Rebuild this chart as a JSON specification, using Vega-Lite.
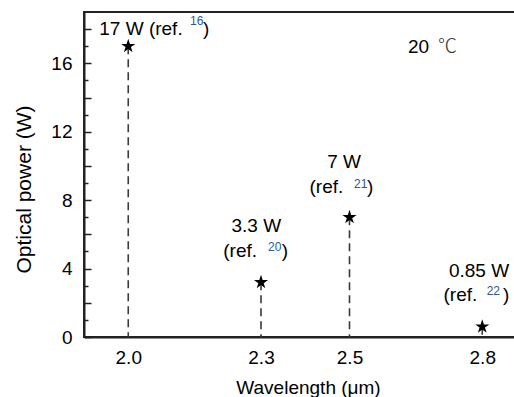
{
  "$schema": "https://vega.github.io/schema/vega-lite/v6.json",
  "width": 431,
  "height": 325,
  "autosize": {"type": "none"},
  "padding": {"left": 84, "top": 12, "right": -1, "bottom": 60},
  "background": "white",
  "config": {"view": {"stroke": "#222", "strokeWidth": 2}, "font": "Liberation Sans", "axis": {"grid": false}},
  "datasets": {
    "points": [
      {"wavelength": 2.0, "power": 17},
      {"wavelength": 2.3, "power": 3.2},
      {"wavelength": 2.5, "power": 7},
      {"wavelength": 2.8, "power": 0.6}
    ],
    "labels": [
      {"x": 2.1230, "y": 17.635, "text": "17 W (ref.", "role": "r"},
      {"x": 2.1395, "y": 18.22, "text": "16", "role": "s"},
      {"x": 2.1689, "y": 17.635, "text": ")", "role": "l"},
      {"x": 2.2894, "y": 6.114, "text": "3.3 W", "role": "c"},
      {"x": 2.2910, "y": 4.689, "text": "(ref.", "role": "r"},
      {"x": 2.3158, "y": 5.022, "text": "20", "role": "s"},
      {"x": 2.3468, "y": 4.689, "text": ")", "role": "l"},
      {"x": 2.4876, "y": 9.869, "text": "7 W", "role": "c"},
      {"x": 2.4860, "y": 8.438, "text": "(ref.", "role": "r"},
      {"x": 2.5102, "y": 8.701, "text": "21", "role": "s"},
      {"x": 2.5395, "y": 8.438, "text": ")", "role": "l"},
      {"x": 2.7927, "y": 3.521, "text": "0.85 W", "role": "c"},
      {"x": 2.7888, "y": 2.091, "text": "(ref.", "role": "r"},
      {"x": 2.81, "y": 2.453, "text": "22", "role": "s"},
      {"x": 2.8469, "y": 2.091, "text": ")", "role": "l"},
      {"x": 2.6322, "y": 16.584, "text": "20", "role": "l"},
      {"x": 2.7, "y": 16.584, "text": "℃", "role": "u"}
    ]
  },
  "layer": [
    {
      "data": {"name": "points"},
      "mark": {"type": "rule", "strokeDash": [8, 5], "strokeWidth": 1.6, "color": "#3a3a3a"},
      "encoding": {
        "x": {
          "field": "wavelength", "type": "quantitative",
          "scale": {"domain": [1.9, 2.874], "nice": false, "zero": false},
          "axis": {
            "orient": "bottom", "values": [2.0, 2.3, 2.5, 2.8], "format": ".1f",
            "ticks": false, "tickSize": 0, "labelPadding": 26, "labelBaseline": "alphabetic",
            "labelFontSize": 19, "labelColor": "black", "labelFlush": false,
            "domainColor": "#222", "domainWidth": 2,
            "title": "Wavelength (μm)", "titleFontSize": 19, "titleFontWeight": "normal", "titleColor": "black",
            "titleX": 224, "titleY": 56, "titleBaseline": "alphabetic", "titleAlign": "center"
          }
        },
        "y": {
          "field": "power", "type": "quantitative",
          "scale": {"domain": [0, 19], "nice": false},
          "axis": {
            "orient": "left", "values": [0, 4, 8, 12, 16],
            "ticks": false, "tickSize": 0, "labelPadding": 12,
            "labelFontSize": 19, "labelColor": "black", "labelFlush": false,
            "domainColor": "#222", "domainWidth": 2,
            "title": "Optical power (W)", "titleFontSize": 21, "titleFontWeight": "normal", "titleColor": "black",
            "titleX": -54, "titleY": 177, "titleAngle": -90, "titleBaseline": "alphabetic", "titleAlign": "center"
          }
        },
        "y2": {"datum": 0}
      }
    },
    {
      "data": {"name": "points"},
      "mark": {
        "type": "point", "filled": true, "color": "black", "opacity": 1, "size": 220,
        "shape": "M0,-1 L0.2245,-0.309 L0.951,-0.309 L0.363,0.118 L0.588,0.809 L0,0.382 L-0.588,0.809 L-0.363,0.118 L-0.951,-0.309 L-0.2245,-0.309 Z"
      },
      "encoding": {
        "x": {"field": "wavelength", "type": "quantitative", "axis": null},
        "y": {
          "field": "power", "type": "quantitative",
          "axis": {
            "orient": "left", "values": [0, 2, 4, 6, 8, 10, 12, 14, 16, 18],
            "ticks": true, "tickSize": -7, "tickWidth": 1.5, "tickColor": "#222",
            "labels": false, "domain": false, "title": null
          }
        }
      }
    },
    {
      "data": {"name": "labels"},
      "transform": [{"filter": "datum.role === 'c'"}],
      "mark": {"type": "text", "align": "center", "baseline": "alphabetic", "fontSize": 19, "color": "black"},
      "encoding": {
        "x": {"field": "x", "type": "quantitative", "axis": null},
        "y": {
          "field": "y", "type": "quantitative",
          "axis": {
            "orient": "left", "values": [1, 3, 5, 7, 9, 11, 13, 15, 17],
            "ticks": true, "tickSize": -4, "tickWidth": 1.5, "tickColor": "#222",
            "labels": false, "domain": false, "title": null
          }
        },
        "text": {"field": "text"}
      }
    },
    {
      "data": {"name": "labels"},
      "transform": [{"filter": "datum.role === 'r'"}],
      "mark": {"type": "text", "align": "right", "baseline": "alphabetic", "fontSize": 19, "color": "black"},
      "encoding": {
        "x": {"field": "x", "type": "quantitative", "axis": null},
        "y": {"field": "y", "type": "quantitative", "axis": null},
        "text": {"field": "text"}
      }
    },
    {
      "data": {"name": "labels"},
      "transform": [{"filter": "datum.role === 'l'"}],
      "mark": {"type": "text", "align": "left", "baseline": "alphabetic", "fontSize": 19, "color": "black"},
      "encoding": {
        "x": {"field": "x", "type": "quantitative", "axis": null},
        "y": {"field": "y", "type": "quantitative", "axis": null},
        "text": {"field": "text"}
      }
    },
    {
      "data": {"name": "labels"},
      "transform": [{"filter": "datum.role === 'u'"}],
      "mark": {"type": "text", "align": "left", "baseline": "alphabetic", "fontSize": 19, "font": "Noto Sans CJK SC", "fontWeight": 300, "color": "#333"},
      "encoding": {
        "x": {"field": "x", "type": "quantitative", "axis": null},
        "y": {"field": "y", "type": "quantitative", "axis": null},
        "text": {"field": "text"}
      }
    },
    {
      "data": {"name": "labels"},
      "transform": [{"filter": "datum.role === 's'"}],
      "mark": {"type": "text", "align": "left", "baseline": "alphabetic", "fontSize": 12, "color": "#2b5797"},
      "encoding": {
        "x": {"field": "x", "type": "quantitative", "axis": null},
        "y": {"field": "y", "type": "quantitative", "axis": null},
        "text": {"field": "text"}
      }
    }
  ],
  "resolve": {"axis": {"x": "independent", "y": "independent"}}
}
